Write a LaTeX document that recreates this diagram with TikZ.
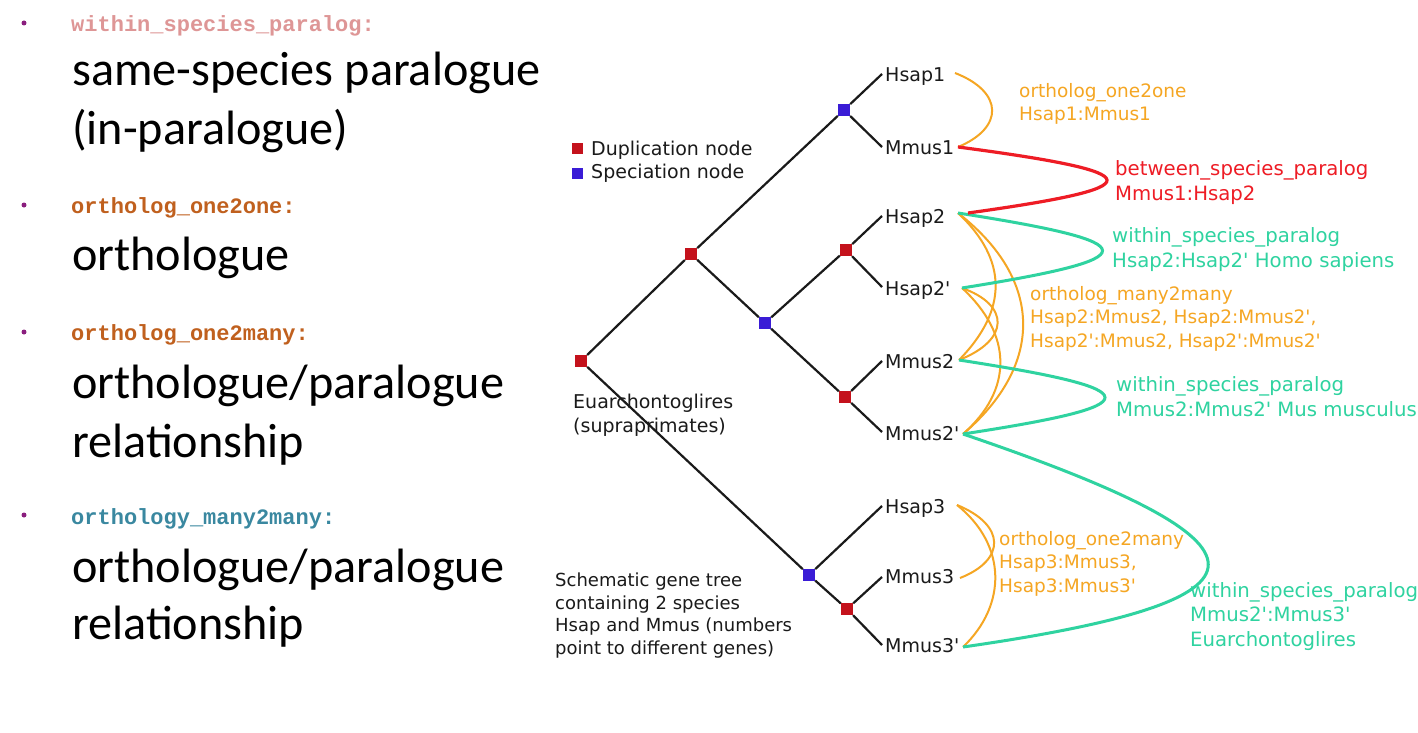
\documentclass[tikz,border=0pt]{standalone}
\usepackage{fontspec}
\setmainfont{Carlito}
\newfontfamily\dvs{DejaVu Sans}
\newfontfamily\cour{Liberation Mono}
\definecolor{dupred}{HTML}{C4121C}
\definecolor{specblue}{HTML}{3A1CD6}
\definecolor{orc}{HTML}{F5A623}
\definecolor{tlc}{HTML}{2FD3A0}
\definecolor{rdc}{HTML}{EE1C25}
\definecolor{pinkc}{HTML}{DE9696}
\definecolor{brownc}{HTML}{C0601E}
\definecolor{bluec}{HTML}{3A88A0}
\definecolor{bulletc}{HTML}{8A1E7E}
\definecolor{inkc}{HTML}{1A1A1A}
\begin{document}
\begin{tikzpicture}[x=1pt,y=-1pt,
  big/.style={anchor=base west,inner sep=0pt,font=\fontsize{48.2}{57}\selectfont},
  code/.style={anchor=base west,inner sep=0pt,font=\cour\bfseries\fontsize{22}{26}\selectfont},
  bul/.style={circle,fill=bulletc,inner sep=0pt,minimum size=5pt},
  dup/.style={rectangle,fill=dupred,inner sep=0pt,minimum size=12pt},
  spec/.style={rectangle,fill=specblue,inner sep=0pt,minimum size=12pt},
  leaf/.style={anchor=base west,inner sep=0pt,text=inkc,font=\dvs\fontsize{19}{23}\selectfont},
  note/.style={anchor=base west,inner sep=0pt,align=left,text=inkc,font=\dvs\fontsize{19}{24}\selectfont},
  snote/.style={anchor=base west,inner sep=0pt,align=left,text=inkc,font=\dvs\fontsize{18}{22.5}\selectfont},
  olab/.style={anchor=base west,inner sep=0pt,align=left,text=orc,font=\dvs\fontsize{18.5}{23.3}\selectfont},
  tlab/.style={anchor=base west,inner sep=0pt,align=left,text=tlc,font=\dvs\fontsize{19.7}{24.5}\selectfont},
  rlab/.style={anchor=base west,inner sep=0pt,align=left,text=rdc,font=\dvs\fontsize{19.7}{25}\selectfont},
  treeline/.style={line width=2.2pt,inkc},
  ocurve/.style={line width=2pt,orc},
  tcurve/.style={line width=3pt,tlc},
  rcurve/.style={line width=3.2pt,rdc}]
\useasboundingbox (0,0) rectangle (1418,733);
\fill[white] (0,0) rectangle (1418,733);

% ---------- left column ----------
\node[bul] (b1) at (24,23) {};
\node[code,text=pinkc] (c1) at (71,32) {within\_species\_paralog:};
\node[big] (t1a) at (72,86) {same-species paralogue};
\node[big] (t1b) at (72,145) {(in-paralogue)};

\node[bul] (b2) at (24,205) {};
\node[code,text=brownc] (c2) at (71,213) {ortholog\_one2one:};
\node[big] (t2a) at (72,270) {orthologue};

\node[bul] (b3) at (24,332) {};
\node[code,text=brownc] (c3) at (71,340) {ortholog\_one2many:};
\node[big] (t3a) at (72,398) {orthologue/paralogue};
\node[big] (t3b) at (72,457) {relationship};

\node[bul] (b4) at (24,515) {};
\node[code,text=bluec] (c4) at (71,524) {orthology\_many2many:};
\node[big] (t4a) at (72,582) {orthologue/paralogue};
\node[big] (t4b) at (72,639) {relationship};

% ---------- legend and notes (base = last line) ----------
\node[dup,minimum size=11pt] (lgd) at (577,148) {};
\node[note] (lgdt) at (591,155) {Duplication node};
\node[spec,minimum size=11pt] (lgs) at (577,173) {};
\node[note] (lgst) at (591,178) {Speciation node};
\node[note] (euar) at (573,432) {Euarchontoglires\\(supraprimates)};
\node[snote] (schem) at (555,654) {Schematic gene tree\\containing 2 species\\Hsap and Mmus (numbers\\point to different genes)};

% ---------- leaf ends ----------
\coordinate (lH1) at (882,74);
\coordinate (lM1) at (882,147);
\coordinate (lH2) at (882,216);
\coordinate (lH2p) at (882,287);
\coordinate (lM2) at (882,361);
\coordinate (lM2p) at (882,432);
\coordinate (lH3) at (882,506);
\coordinate (lM3) at (882,577);
\coordinate (lM3p) at (882,645);

% ---------- internal nodes ----------
\node[dup] (root) at (581,361) {};
\node[dup] (A) at (691,254) {};
\node[spec] (S1) at (844,110) {};
\node[spec] (B) at (765,323) {};
\node[dup] (C) at (846,250) {};
\node[dup] (D) at (845,397) {};
\node[spec] (E) at (809,575) {};
\node[dup] (F) at (847,609) {};

% ---------- tree edges ----------
\draw[treeline] (root) -- (A);
\draw[treeline] (root) -- (E);
\draw[treeline] (A) -- (S1);
\draw[treeline] (A) -- (B);
\draw[treeline] (S1) -- (lH1);
\draw[treeline] (S1) -- (lM1);
\draw[treeline] (B) -- (C);
\draw[treeline] (B) -- (D);
\draw[treeline] (C) -- (lH2);
\draw[treeline] (C) -- (lH2p);
\draw[treeline] (D) -- (lM2);
\draw[treeline] (D) -- (lM2p);
\draw[treeline] (E) -- (lH3);
\draw[treeline] (E) -- (F);
\draw[treeline] (F) -- (lM3);
\draw[treeline] (F) -- (lM3p);

% ---------- leaf labels ----------
\node[leaf] (Hsap1) at (885,82) {Hsap1};
\node[leaf] (Mmus1) at (885,154) {Mmus1};
\node[leaf] (Hsap2) at (885,223) {Hsap2};
\node[leaf] (Hsap2p) at (885,295) {Hsap2'};
\node[leaf] (Mmus2) at (885,368) {Mmus2};
\node[leaf] (Mmus2p) at (885,440) {Mmus2'};
\node[leaf] (Hsap3) at (885,513) {Hsap3};
\node[leaf] (Mmus3) at (885,583) {Mmus3};
\node[leaf] (Mmus3p) at (885,652) {Mmus3'};

% ---------- curve ends ----------
\coordinate (eH1) at (955,73);
\coordinate (eM1) at (958,147);
\coordinate (eH2) at (958,213);
\coordinate (eH2r) at (968,213);
\coordinate (eH2p) at (962,288);
\coordinate (eM2) at (959,360);
\coordinate (eM2p) at (963,434);
\coordinate (eH3) at (957,505);
\coordinate (eM3) at (960,578);
\coordinate (eM3p) at (963,647);

% ---------- relation curves ----------
\draw[ocurve] (eH1) .. controls (1004,92) and (1004,128) .. (eM1);
\draw[ocurve] (eH2) .. controls (1008,260) and (1008,310) .. (eM2);
\draw[ocurve] (eH2) .. controls (1044,280) and (1044,365) .. (eM2p);
\draw[ocurve] (eH2p) .. controls (1010,305) and (1010,340) .. (eM2);
\draw[ocurve] (eH2p) .. controls (1013,335) and (1013,390) .. (eM2p);
\draw[ocurve] (eH3) .. controls (1006,525) and (1006,560) .. (eM3);
\draw[ocurve] (eH3) .. controls (1007,545) and (1007,605) .. (eM3p);
\draw[tcurve] (eH2) .. controls (1150,243) and (1150,258) .. (eH2p);
\draw[tcurve] (eM2) .. controls (1153,390) and (1153,405) .. (eM2p);
\draw[tcurve] (eM2p) .. controls (1290,545) and (1290,600) .. (eM3p);
\draw[rcurve] (eM1) .. controls (1155,173) and (1155,187) .. (eH2r);

% ---------- relation labels (base = last line) ----------
\node[olab] (l1) at (1019,121) {ortholog\_one2one\\Hsap1:Mmus1};
\node[rlab] (l2) at (1115,200) {between\_species\_paralog\\Mmus1:Hsap2};
\node[tlab] (l3) at (1112,267) {within\_species\_paralog\\Hsap2:Hsap2' Homo sapiens};
\node[olab] (l4) at (1030,347) {ortholog\_many2many\\Hsap2:Mmus2, Hsap2:Mmus2',\\Hsap2':Mmus2, Hsap2':Mmus2'};
\node[tlab] (l5) at (1116,416) {within\_species\_paralog\\Mmus2:Mmus2' Mus musculus};
\node[olab] (l6) at (999,592) {ortholog\_one2many\\Hsap3:Mmus3,\\Hsap3:Mmus3'};
\node[tlab] (l7) at (1190,646) {within\_species\_paralog\\Mmus2':Mmus3'\\Euarchontoglires};
\end{tikzpicture}
\end{document}
